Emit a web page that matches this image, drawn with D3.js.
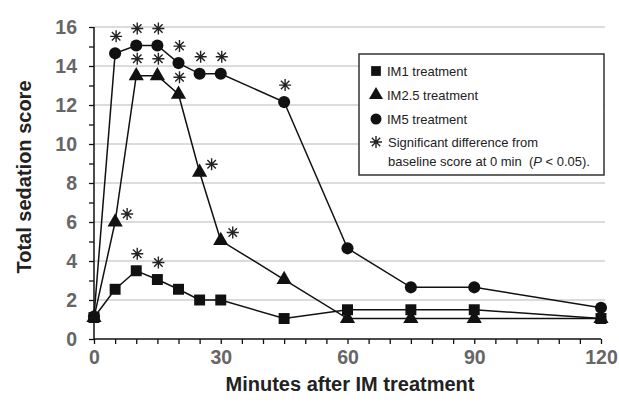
<!DOCTYPE html>
<html><head><meta charset="utf-8">
<script src="https://cdn.jsdelivr.net/npm/d3@7"></script>
<style>body{margin:0;background:#fff}svg{display:block}</style>
</head><body>
<svg id="c" width="619" height="403"></svg>
<script>
const minutes = [0, 5, 10, 15, 20, 25, 30, 45, 60, 75, 90, 120];
const im1  = [1.1, 2.55, 3.5, 3.05, 2.55, 2.0, 2.0, 1.05, 1.5, 1.5, 1.5, 1.05];
const im25 = [1.1, 6.0, 13.5, 13.5, 12.55, 8.55, 5.05, 3.05, 1.05, 1.05, 1.05, 1.05];
const im5  = [1.15, 14.65, 15.05, 15.05, 14.15, 13.6, 13.6, 12.15, 4.65, 2.65, 2.65, 1.6];
// significance: minute index with marker placement ("a" above, "r" upper right)
const sig1  = [[10,"a"],[15,"a"]];
const sig25 = [[5,"r"],[10,"a"],[15,"a"],[20,"a"],[25,"r"],[30,"r"]];
const sig5  = [[5,"a"],[10,"a"],[15,"a"],[20,"a"],[25,"a"],[30,"a"],[45,"a"]];
const xTicks = [0, 30, 60, 90, 120];
const yTicks = [0, 2, 4, 6, 8, 10, 12, 14, 16];
const legendLabels = ["IM1 treatment", "IM2.5 treatment", "IM5 treatment"];

const svg = d3.select("#c");
const x = d3.scaleLinear().domain([0, 120]).range([94, 601]);
const y = d3.scaleLinear().domain([0, 16]).range([339, 27]);
const FONT = "'Liberation Sans', Arial, Helvetica, sans-serif";

// gridlines
svg.append("g").selectAll("line").data(yTicks.filter(d => d > 0)).join("line")
  .attr("x1", 94).attr("x2", 605).attr("y1", d => y(d)).attr("y2", d => y(d))
  .attr("stroke", "#cfcfcf").attr("stroke-width", 1.5);

// y axis
const yAx = svg.append("g").attr("transform", "translate(94,0)")
  .call(d3.axisLeft(y).tickValues(d3.range(0, 17, 1)).tickSize(5).tickFormat(d => d % 2 === 0 ? d : ""));
yAx.select(".domain").attr("stroke", "#111").attr("stroke-width", 1.5).attr("d", "M0," + y(0) + "V" + y(16));
yAx.selectAll(".tick line").attr("stroke", "#111").attr("stroke-width", 1.3);
yAx.selectAll(".tick text").attr("x", -17).attr("font-family", FONT).attr("font-weight", "bold")
  .attr("font-size", 19.5).attr("fill", "#666");

// x axis
const xAx = svg.append("g").attr("transform", "translate(0,339)")
  .call(d3.axisBottom(x).tickValues(d3.range(0, 121, 5)).tickSize(5).tickFormat(d => xTicks.includes(d) ? d : ""));
xAx.select(".domain").attr("stroke", "#111").attr("stroke-width", 1.5).attr("d", "M" + x(0) + ",0H" + x(120));
xAx.selectAll(".tick line").attr("stroke", "#111").attr("stroke-width", 1.3);
xAx.selectAll(".tick text").attr("y", 11).attr("font-family", FONT).attr("font-weight", "bold")
  .attr("font-size", 19.5).attr("fill", "#666");

// axis titles
svg.append("text").attr("transform", "translate(31,177) rotate(-90)").attr("text-anchor", "middle")
  .attr("font-family", FONT).attr("font-weight", "bold").attr("font-size", 20).attr("fill", "#222")
  .text("Total sedation score");
svg.append("text").attr("x", 350).attr("y", 391).attr("text-anchor", "middle")
  .attr("font-family", FONT).attr("font-weight", "bold").attr("font-size", 20).attr("fill", "#222")
  .text("Minutes after IM treatment");

const line = d3.line().x(d => x(d[0])).y(d => y(d[1]));
const series = [
  {vals: im1, sym: d3.symbolSquare, size: 120, sig: sig1},
  {vals: im25, sym: d3.symbolTriangle, size: 100, sig: sig25},
  {vals: im5, sym: d3.symbolCircle, size: 115, sig: sig5}
];

function asterisk(g, cx, cy, r) {
  let p = "";
  for (let k = 0; k < 4; k++) {
    const a = k * Math.PI / 4 + Math.PI / 2;
    p += "M" + (cx - r * Math.cos(a)) + "," + (cy - r * Math.sin(a)) + "L" + (cx + r * Math.cos(a)) + "," + (cy + r * Math.sin(a));
  }
  g.append("path").attr("d", p).attr("stroke", "#222").attr("stroke-width", 1.4).attr("fill", "none");
}

series.forEach(s => {
  const pts = minutes.map((m, i) => [m, s.vals[i]]);
  svg.append("path").attr("d", line(pts)).attr("fill", "none").attr("stroke", "#111").attr("stroke-width", 1.5);
});
series.forEach(s => {
  const pts = minutes.map((m, i) => [m, s.vals[i]]);
  svg.append("g").selectAll("path").data(pts).join("path")
    .attr("transform", d => `translate(${x(d[0])},${y(d[1])})`)
    .attr("d", d3.symbol().type(s.sym).size(s.size)).attr("fill", "#111");
  const ag = svg.append("g");
  s.sig.forEach(([m, pos]) => {
    const v = s.vals[minutes.indexOf(m)];
    const dx = pos === "r" ? 12 : 1, dy = pos === "r" ? -8 : -17;
    asterisk(ag, x(m) + dx, y(v) + dy, 6);
  });
});

// legend
const lg = svg.append("g");
lg.append("rect").attr("x", 359).attr("y", 54).attr("width", 245).attr("height", 121)
  .attr("fill", "#fff").attr("stroke", "#333").attr("stroke-width", 1.5);
const lsyms = [d3.symbolSquare, d3.symbolTriangle, d3.symbolCircle];
const lys = [71, 95, 119];
legendLabels.forEach((t, i) => {
  lg.append("path").attr("transform", `translate(376,${lys[i]})`)
    .attr("d", d3.symbol().type(lsyms[i]).size(i === 1 ? 85 : 95)).attr("fill", "#111");
  lg.append("text").attr("x", 387).attr("y", lys[i] + 5).attr("font-family", FONT)
    .attr("font-size", 13).attr("fill", "#222").text(t);
});
asterisk(lg, 376, 142, 6);
lg.append("text").attr("x", 388).attr("y", 147).attr("font-family", FONT)
  .attr("font-size", 13).attr("fill", "#222").text("Significant difference from");
const t2 = lg.append("text").attr("x", 388).attr("y", 166).attr("font-family", FONT)
  .attr("font-size", 13).attr("fill", "#222").attr("xml:space", "preserve");
t2.append("tspan").text("baseline score at 0 min  (");
t2.append("tspan").attr("font-style", "italic").text("P");
t2.append("tspan").text(" < 0.05).");
</script>
</body></html>
